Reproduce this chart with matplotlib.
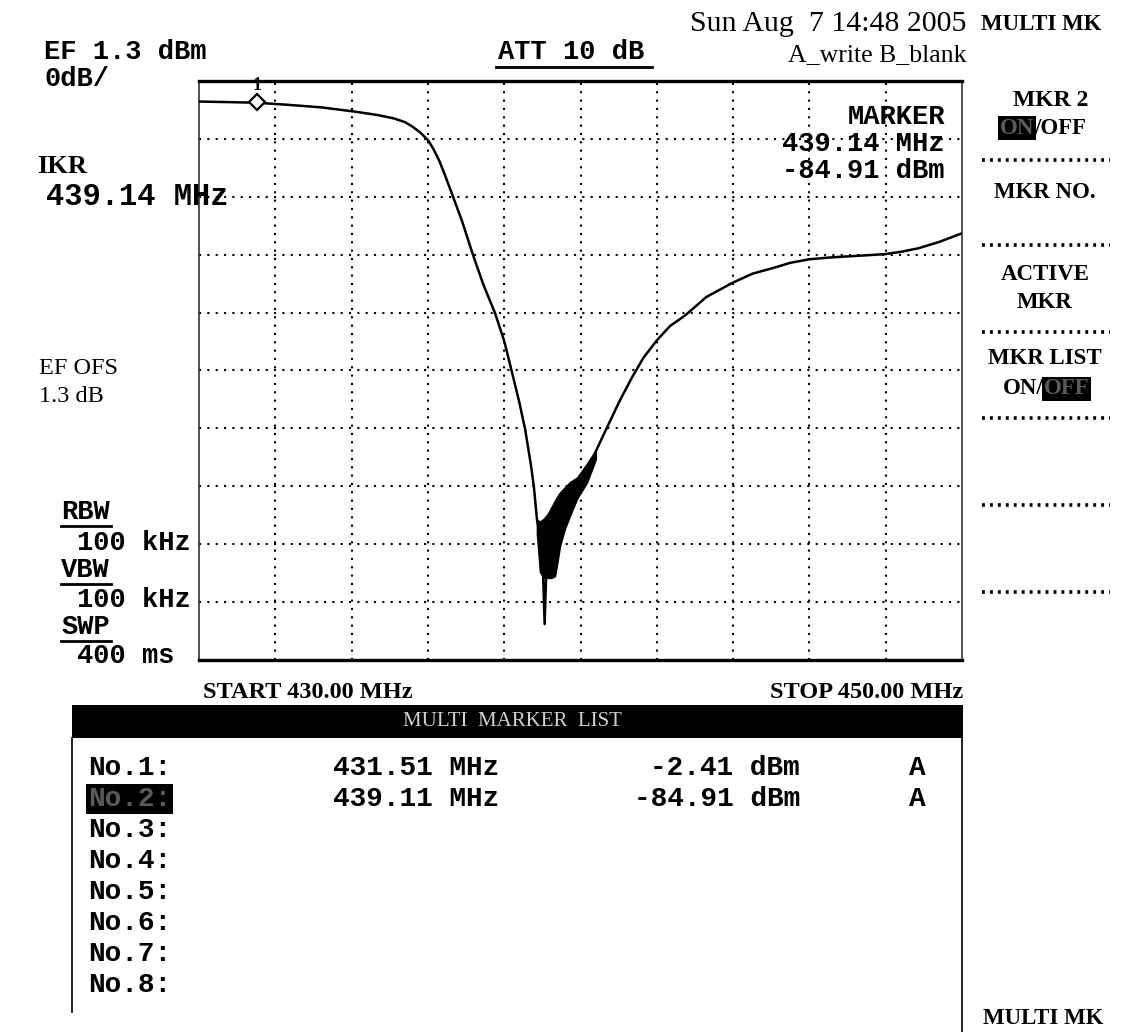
import matplotlib
matplotlib.use('Agg')
import numpy as np
import matplotlib.pyplot as plt
from matplotlib.patches import Rectangle
from matplotlib.lines import Line2D

start_mhz = 430.0
stop_mhz = 450.0
ref_level_dbm = 1.3
db_per_div = 10

trace_freq_mhz = [
    430.00, 430.80, 431.51, 432.30, 433.20, 434.10, 434.70, 435.10, 435.40, 435.60,
    435.80, 436.00, 436.15, 436.30, 436.45, 436.66, 436.90, 437.18, 437.45, 437.76,
    438.00, 438.20, 438.40, 438.55, 438.70, 438.78, 438.86, 438.96, 439.02, 439.06,
    439.10, 439.20, 439.40, 439.60, 439.90, 440.20, 440.59,
    441.03, 441.35, 441.65, 442.00, 442.35, 442.74, 443.30, 443.97, 444.50, 445.10,
    445.50, 445.99, 446.50, 446.98, 447.50, 447.98, 448.40, 448.85, 449.40, 450.00,
]
trace_level_dbm = [
    -2.25, -2.35, -2.45, -2.80, -3.25, -4.00, -4.60, -5.15, -5.80, -6.60,
    -7.60, -8.90, -10.5, -12.5, -15.0, -18.7, -23.0, -28.7, -33.8, -38.8,
    -43.6, -48.9, -54.3, -58.9, -65.0, -68.9, -74.5, -78.0, -84.0, -92.5,
    -84.0, -78.0, -74.0, -71.5, -68.5, -65.5, -60.0,
    -53.9, -49.9, -46.5, -43.5, -41.0, -39.2, -36.0, -33.6, -32.0, -30.9,
    -30.1, -29.5, -29.2, -29.0, -28.8, -28.6, -28.2, -27.6, -26.5, -25.0,
]

# noisy band around the notch (upper / lower envelope of the smeared trace)
noise_freq_mhz = [438.86, 438.94, 439.04, 439.14, 439.24, 439.33, 439.40, 439.46,
                  439.59, 439.72, 439.91, 440.17, 440.40]
noise_upper_dbm = [-74.5, -74.8, -74.3, -73.5, -72.3, -71.2, -70.4, -69.8,
                   -68.9, -68.0, -67.2, -64.8, -62.5]
noise_lower_dbm = [-77.0, -83.5, -84.5, -84.5, -84.5, -84.2, -81.5, -79.0,
                   -76.0, -73.8, -70.8, -68.0, -64.0]

marker_freq_mhz = [431.51, 439.14]
marker_level_dbm = [-2.41, -84.91]
list_labels = ['No.1:', 'No.2:', 'No.3:', 'No.4:', 'No.5:', 'No.6:', 'No.7:', 'No.8:']
list_freq = ['431.51 MHz', '439.11 MHz']
list_level = ['-2.41 dBm', '-84.91 dBm']
list_trace = ['A', 'A']

# ---------------- figure ----------------
W, H = 1122, 1032
fig = plt.figure(figsize=(W / 100, H / 100), dpi=100)
fig.patch.set_facecolor('white')
renderer = fig.canvas.get_renderer()

MONO = ['Liberation Mono', 'DejaVu Sans Mono']
SERIF = ['Liberation Serif', 'DejaVu Serif']


def fx(x):
    return x / W


def fy(y):
    return 1 - y / H


def T(x, y, s, size, family, weight='bold', ha='left', color='black', z=5):
    return fig.text(fx(x), fy(y), s, fontsize=size, family=family, weight=weight,
                    ha=ha, va='center', color=color, zorder=z)


def HL(x0, x1, y, lw=2.0, ls='-', color='black'):
    fig.add_artist(Line2D([fx(x0), fx(x1)], [fy(y), fy(y)], color=color, lw=lw,
                          linestyle=ls, transform=fig.transFigure))


def VL(x, y0, y1, lw=1.5, color='black'):
    fig.add_artist(Line2D([fx(x), fx(x)], [fy(y0), fy(y1)], color=color, lw=lw,
                          transform=fig.transFigure))


def BOX(x0, y0, x1, y1, color='black', z=3):
    fig.add_artist(Rectangle((fx(x0), fy(y1)), fx(x1) - fx(x0), fy(y0) - fy(y1),
                             transform=fig.transFigure, facecolor=color,
                             edgecolor='none', zorder=z))


def SEG(x, y, segs, size, family, weight='bold', ha='left'):
    """Text pieces side by side; highlighted pieces get a black box."""
    texts = []
    for s, hl in segs:
        t = fig.text(0, fy(y), s, fontsize=size, family=family, weight=weight,
                     ha='left', va='center', zorder=6,
                     color='#5a5a5a' if hl else 'black')
        if hl:
            t.set_bbox(dict(facecolor='black', edgecolor='none', pad=1.2))
        texts.append(t)
    widths = [t.get_window_extent(renderer).width for t in texts]
    pos = x - sum(widths) / 2 if ha == 'center' else x
    for t, w in zip(texts, widths):
        t.set_x(fx(pos))
        pos += w


# ---------------- trace axes ----------------
L, R, TOP, BOT = 199, 962, 81, 660
ax = fig.add_axes([fx(L), fy(BOT), (R - L) / W, (BOT - TOP) / H])
ax.set_xlim(start_mhz, stop_mhz)
ax.set_ylim(ref_level_dbm - 10 * db_per_div, ref_level_dbm)
ax.set_xticks(np.linspace(start_mhz, stop_mhz, 11)[1:-1])
ax.set_yticks([ref_level_dbm - k * db_per_div for k in range(1, 10)])
ax.tick_params(length=0, labelbottom=False, labelleft=False)
ax.grid(True, color='black', linestyle=(0, (1, 3.0)), linewidth=1.5)
ax.spines['top'].set_linewidth(2.4)
ax.spines['bottom'].set_linewidth(2.4)
ax.spines['left'].set_linewidth(1.2)
ax.spines['right'].set_linewidth(1.2)
ax.spines['left'].set_color('#333333')
ax.spines['right'].set_color('#333333')
ax.set_facecolor('white')

ax.fill_between(noise_freq_mhz, noise_lower_dbm, noise_upper_dbm, color='black',
                lw=1.2, edgecolor='black', zorder=4)
ax.plot(trace_freq_mhz, trace_level_dbm, color='black', lw=1.8, zorder=4)
ax.plot(marker_freq_mhz[:1], marker_level_dbm[:1], marker='D', markersize=8,
        markerfacecolor='white', markeredgecolor='black', mew=1.6, zorder=5)
ax.annotate('1', (marker_freq_mhz[0], ref_level_dbm), xytext=(0, -3),
            textcoords='offset points', ha='center', va='center', fontsize=13,
            family=SERIF, weight='bold', annotation_clip=False, zorder=6)

# ---------------- header texts ----------------
T(44, 52, 'EF 1.3 dBm', 19.5, MONO)
T(44, 79, '0dB/', 19.5, MONO)
T(37, 166, 'IKR', 19, SERIF)
T(46, 197, '439.14 MHz', 22, MONO)
T(39, 369, 'EF OFS', 17.5, SERIF, weight='normal')
T(39, 397, '1.3 dB', 17.5, SERIF, weight='normal')

T(61, 512, 'RBW', 19.5, MONO)
HL(61, 111, 526, lw=2)
T(77, 543, '100 kHz', 19.5, MONO)
T(61, 570, 'VBW', 19.5, MONO)
HL(61, 111, 584, lw=2)
T(77, 600, '100 kHz', 19.5, MONO)
T(61, 627, 'SWP', 19.5, MONO)
HL(61, 111, 641, lw=2)
T(77, 656, '400 ms', 19.5, MONO)

T(498, 52, 'ATT 10 dB', 19.5, MONO)
HL(496, 652, 67, lw=2)
T(966, 24, 'Sun Aug  7 14:48 2005', 21.5, SERIF, weight='normal', ha='right')
T(966, 55, 'A_write B_blank', 18.5, SERIF, weight='normal', ha='right')

T(945, 117, 'MARKER', 19.5, MONO, ha='right')
T(945, 144, '439.14 MHz', 19.5, MONO, ha='right')
T(945, 171, '-84.91 dBm', 19.5, MONO, ha='right')

T(203, 692, 'START 430.00 MHz', 17.5, SERIF)
T(963, 692, 'STOP 450.00 MHz', 17.5, SERIF, ha='right')

# ---------------- soft-key panel ----------------
CX = 1045
T(1041, 25, 'MULTI MK', 16.5, SERIF, ha='center')
T(1051, 101, 'MKR 2', 17, SERIF, ha='center')
SEG(1043, 128, [('ON', True), ('/OFF', False)], 16.5, SERIF, ha='center')
for yy in (160, 245, 332, 418, 505, 592):
    HL(982, 1110, yy, lw=2.6, ls=(0, (0.8, 1.4)))
T(CX, 192, 'MKR NO.', 16.5, SERIF, ha='center')
T(CX, 274, 'ACTIVE', 16.5, SERIF, ha='center')
T(CX, 302, 'MKR', 16.5, SERIF, ha='center')
T(CX, 359, 'MKR LIST', 16.5, SERIF, ha='center')
SEG(1046, 389, [('ON/', False), ('OFF', True)], 16.5, SERIF, ha='center')
T(1043, 1018, 'MULTI MK', 16.5, SERIF, ha='center')

# ---------------- multi marker list ----------------
BOX(72, 705, 963, 738, z=3)
T(512, 721, 'MULTI  MARKER  LIST', 15, SERIF, weight='normal', ha='center',
  color='#d0d0d0', z=7)
VL(72, 738, 1012, lw=1.4, color='#222222')
VL(962, 738, 1032, lw=1.4, color='#222222')

row0, dy = 768, 31
for i, lab in enumerate(list_labels):
    yy = row0 + i * dy
    SEG(88, yy, [(lab, i == 1)], 20, MONO)
for i in range(len(list_freq)):
    yy = row0 + i * dy
    T(333, yy, list_freq[i], 20, MONO)
    T(800, yy, list_level[i], 20, MONO, ha='right')
    T(917, yy, list_trace[i], 20, MONO, ha='center')

fig.savefig('out.png', dpi=100, facecolor='white')
